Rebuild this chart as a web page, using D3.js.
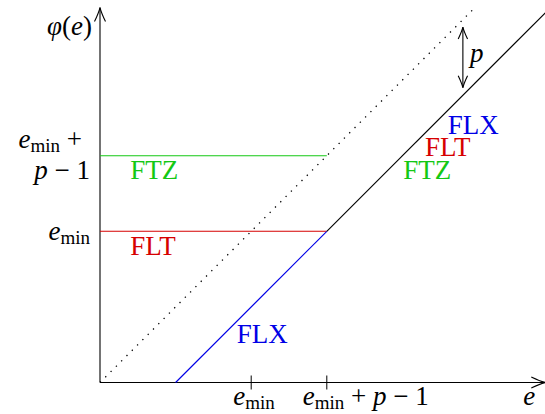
<!DOCTYPE html>
<meta charset="utf-8">
<script src="https://d3js.org/d3.v7.min.js"></script>
<style>
  body { margin: 0; background: #fff; }
  svg text { font-family: "Liberation Serif", serif; font-size: 27px; }
  .it { font-style: italic; }
</style>
<body>
<div id="my_dataviz"></div>
<script>
// exponent values (units of p-1, with e_min = 2)
var eMin = 2, eMinP = 3;
var xMax = 5.89, yMax = 4.96;

// the curves phi(e)
var identityLine = [[0, 0], [4.94, 4.94]];
var flxLine = [[1, 0], [3, 2]];
var commonLine = [[3, 2], [5.89, 4.89]];
var fltLine = [[0, 2], [3, 2]];
var ftzLine = [[0, 3], [3, 3]];
var pArrow = [[4.8, 3.9], [4.8, 4.7]];

// mode labels: [text, x, y, colour]
var modeLabels = [
  ["FTZ", 0.4, 2.69, "#14c814"],
  ["FLT", 0.4, 1.69, "#d60000"],
  ["FLX", 1.81, 0.52, "#0000e6"],
  ["FLX", 4.6, 3.29, "#0000e6"],
  ["FLT", 4.3, 3.0, "#d60000"],
  ["FTZ", 4.01, 2.69, "#14c814"]
];

var width = 545, height = 414;
var svg = d3.select("#my_dataviz").append("svg")
  .attr("width", width).attr("height", height);

var x = d3.scaleLinear().domain([0, 6]).range([100, 100 + 6 * 75.6]);
var y = d3.scaleLinear().domain([0, 5]).range([382.5, 382.5 - 5 * 75.6]);

// arrow tips
var defs = svg.append("defs");
function marker(id, s) {
  defs.append("marker")
    .attr("id", id)
    .attr("markerUnits", "userSpaceOnUse")
    .attr("viewBox", "-16 -8 18 16")
    .attr("refX", 0).attr("refY", 0)
    .attr("markerWidth", 18 * s).attr("markerHeight", 16 * s)
    .attr("orient", "auto-start-reverse")
    .append("path")
    .attr("d", "M-14,-5.5 Q-5,-1.2 0,0 Q-5,1.2 -14,5.5")
    .attr("fill", "none").attr("stroke", "black").attr("stroke-width", 1.1 / s);
}
marker("arr", 1);
marker("arrS", 0.85);

var line = d3.line().x(function (d) { return x(d[0]); }).y(function (d) { return y(d[1]); });

// axes
svg.append("line")
  .attr("x1", x(0)).attr("y1", y(0)).attr("x2", x(xMax)).attr("y2", y(0))
  .attr("stroke", "black").attr("stroke-width", 1.1).attr("marker-end", "url(#arr)");
svg.append("line")
  .attr("x1", x(0)).attr("y1", y(0)).attr("x2", x(0)).attr("y2", y(yMax))
  .attr("stroke", "black").attr("stroke-width", 1.1).attr("marker-end", "url(#arr)");

// ticks on e axis
[eMin, eMinP].forEach(function (v) {
  svg.append("line")
    .attr("x1", x(v)).attr("x2", x(v)).attr("y1", y(0) - 7).attr("y2", y(0) + 7)
    .attr("stroke", "black").attr("stroke-width", 1);
});

// lines
svg.append("path").attr("d", line(identityLine))
  .attr("fill", "none").attr("stroke", "black").attr("stroke-width", 1.3)
  .attr("stroke-dasharray", "1.3 6.2");
svg.append("path").attr("d", line(ftzLine))
  .attr("fill", "none").attr("stroke", "#14c814").attr("stroke-width", 1.1);
svg.append("path").attr("d", line(fltLine))
  .attr("fill", "none").attr("stroke", "#d60000").attr("stroke-width", 1.1);
svg.append("path").attr("d", line(flxLine))
  .attr("fill", "none").attr("stroke", "#0000e6").attr("stroke-width", 1.1);
svg.append("path").attr("d", line(commonLine))
  .attr("fill", "none").attr("stroke", "black").attr("stroke-width", 1.1);

// p arrow
svg.append("path").attr("d", line(pArrow))
  .attr("fill", "none").attr("stroke", "black").attr("stroke-width", 1.1)
  .attr("marker-start", "url(#arrS)").attr("marker-end", "url(#arrS)");
svg.append("text").attr("class", "it")
  .attr("x", x(4.8) + 7).attr("y", y(4.3) + 5).text("p");

// mode labels
svg.selectAll(".mode").data(modeLabels).enter().append("text")
  .attr("class", "mode")
  .attr("x", function (d) { return x(d[1]); })
  .attr("y", function (d) { return y(d[2]); })
  .attr("fill", function (d) { return d[3]; })
  .text(function (d) { return d[0]; });

// math labels: e_min with a subscript
function emin(t) {
  t.append("tspan").attr("class", "it").text("e");
  t.append("tspan").attr("font-size", "19px").attr("dy", 4).text("min");
  return t.append("tspan").attr("dy", -4);
}

// axis labels
var lab = svg.append("text").attr("x", x(0) - 8).attr("y", 35).attr("text-anchor", "end");
lab.append("tspan").attr("class", "it").text("\u03c6");
lab.append("tspan").text("(");
lab.append("tspan").attr("class", "it").text("e");
lab.append("tspan").text(")");

svg.append("text").attr("class", "it").attr("x", x(xMax) - 22).attr("y", y(0) + 22).text("e");

// y labels
emin(svg.append("text").attr("x", x(0) - 18).attr("y", y(eMinP) - 8).attr("text-anchor", "end"))
  .text(" +");
var t2 = svg.append("text").attr("x", x(0) - 10).attr("y", y(eMinP) + 23).attr("text-anchor", "end");
t2.append("tspan").attr("class", "it").text("p");
t2.append("tspan").text(" \u2212 1");
emin(svg.append("text").attr("x", x(0) - 10).attr("y", y(eMin) + 9).attr("text-anchor", "end"));

// x labels
emin(svg.append("text").attr("x", x(eMin) - 18).attr("y", y(0) + 22));
var t3 = emin(svg.append("text").attr("x", x(eMinP) - 24).attr("y", y(0) + 22));
t3.text(" + ");
var t4 = d3.select(t3.node().parentNode);
t4.append("tspan").attr("class", "it").text("p");
t4.append("tspan").text(" \u2212 1");
</script>
</body>
